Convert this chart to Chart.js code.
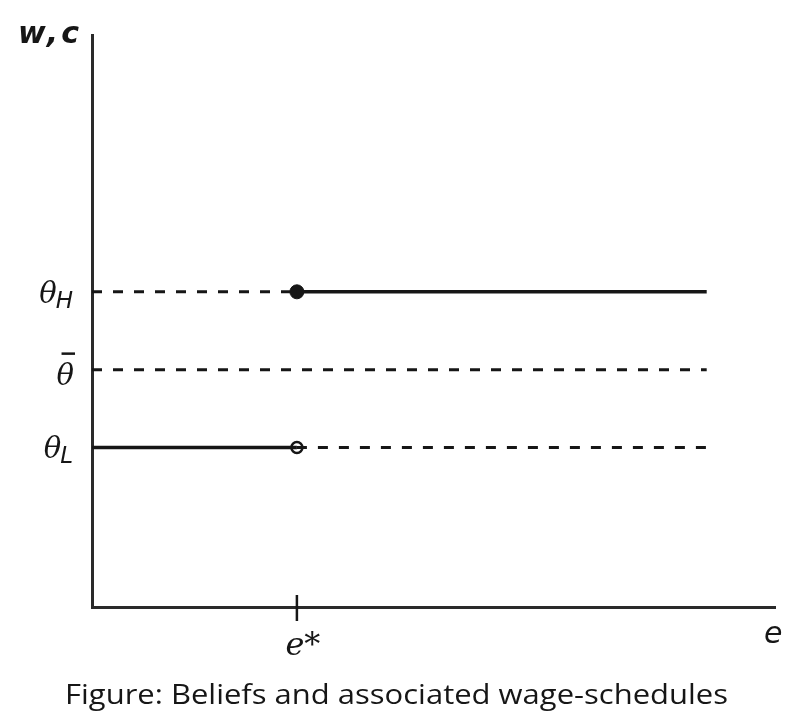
<!DOCTYPE html>
<html>
<head>
<meta charset="utf-8">
<script src="https://cdn.jsdelivr.net/npm/chart.js@4/dist/chart.umd.min.js"></script>
<style>
html,body{margin:0;padding:0;background:#fff;}
#wrap{width:800px;height:723px;}
</style>
</head>
<body>
<div id="wrap"><canvas id="c" width="800" height="723"></canvas></div>
<script>
// ---- data ----
const eStar = 3;          // threshold education level e*
const eEnd = 9;           // right end of the schedules
const thetaL = 2.05;
const thetaBar = 3.05;
const thetaH = 4.05;
const xRange = [0, 10];
const yRange = [0, 7.35];
const xTickValues = [eStar];
const xTickLabels = ['e*'];
const yTickValues = [thetaL, thetaBar, thetaH];
const yTickMain = ['θ', 'θ', 'θ'];
const yTickSub = ['L', '', 'H'];
const yTickBar = [false, true, false];
const yAxisTitle = 'w,c';
const xAxisTitle = 'e';
const caption = 'Figure: Beliefs and associated wage-schedules';

// series (segments)
const highDashed = [{x: 0, y: thetaH}, {x: eStar, y: thetaH}];
const highSolid = [{x: eStar, y: thetaH}, {x: eEnd, y: thetaH}];
const barDashed = [{x: 0, y: thetaBar}, {x: eEnd, y: thetaBar}];
const lowSolid = [{x: 0, y: thetaL}, {x: eStar, y: thetaL}];
const lowDashed = [{x: eStar, y: thetaL}, {x: eEnd, y: thetaL}];
const filledPoint = [{x: eStar, y: thetaH}];
const openPoint = [{x: eStar, y: thetaL}];

const INK = '#161616';
const AXIS = '#2a2a2a';
const dash = [10, 11];

const labelsPlugin = {
  id: 'labels',
  afterDraw(chart) {
    const ctx = chart.ctx;
    const xs = chart.scales.x, ys = chart.scales.y;
    const area = chart.chartArea;
    ctx.save();
    ctx.fillStyle = INK;
    ctx.strokeStyle = INK;
    // x tick mark crossing axis
    xTickValues.forEach((v, i) => {
      const px = xs.getPixelForValue(v);
      ctx.lineWidth = 2.5;
      ctx.beginPath();
      ctx.moveTo(px, area.bottom - 12);
      ctx.lineTo(px, area.bottom + 14);
      ctx.stroke();
      ctx.font = 'italic 32px "DejaVu Serif"';
      ctx.textAlign = 'center';
      ctx.textBaseline = 'alphabetic';
      ctx.fillText(xTickLabels[i], px + 6, area.bottom + 48);
    });
    // y tick labels
    yTickValues.forEach((v, i) => {
      const py = ys.getPixelForValue(v);
      const right = area.left - 18;
      ctx.textBaseline = 'alphabetic';
      ctx.textAlign = 'left';
      ctx.font = 'italic 29px "DejaVu Serif"';
      const mainW = ctx.measureText(yTickMain[i]).width;
      ctx.font = 'italic 23px "DejaVu Sans"';
      const subW = yTickSub[i] ? ctx.measureText(yTickSub[i]).width : 0;
      const startX = right - mainW - subW;
      ctx.font = 'italic 29px "DejaVu Serif"';
      ctx.fillText(yTickMain[i], startX, py + (yTickBar[i] ? 15 : 11));
      if (yTickSub[i]) {
        ctx.font = 'italic 23px "DejaVu Sans"';
        ctx.fillText(yTickSub[i], startX + mainW - 1, py + 16);
      }
      if (yTickBar[i]) {
        ctx.lineWidth = 2.5;
        ctx.beginPath();
        ctx.moveTo(startX + 5, py - 16);
        ctx.lineTo(startX + mainW + 1, py - 16);
        ctx.stroke();
      }
    });
    // axis titles
    ctx.font = 'italic bold 30px "DejaVu Sans"';
    ctx.textAlign = 'left';
    ctx.textBaseline = 'alphabetic';
    ctx.letterSpacing = '3px';
    ctx.fillText(yAxisTitle, 18, 43);
    ctx.letterSpacing = '0px';
    ctx.font = 'italic 30px "DejaVu Sans"';
    ctx.fillText(xAxisTitle, 764, 643);
    // caption
    ctx.font = '28px "Open Sans"';
    ctx.textAlign = 'left';
    const cw = ctx.measureText(caption).width;
    const target = 663;
    ctx.translate(65, 704);
    ctx.scale(target / cw, 1);
    ctx.fillText(caption, 0, 0);
    ctx.restore();
  }
};

new Chart(document.getElementById('c'), {
  type: 'scatter',
  data: {
    datasets: [
      {data: highDashed, showLine: true, borderColor: INK, borderWidth: 3, borderDash: dash, pointRadius: 0},
      {data: barDashed, showLine: true, borderColor: INK, borderWidth: 3, borderDash: dash, pointRadius: 0},
      {data: lowDashed, showLine: true, borderColor: INK, borderWidth: 3, borderDash: dash, pointRadius: 0},
      {data: highSolid, showLine: true, borderColor: INK, borderWidth: 3.5, pointRadius: 0},
      {data: lowSolid, showLine: true, borderColor: INK, borderWidth: 3.5, pointRadius: 0},
      {data: filledPoint, showLine: false, pointRadius: 7, pointBackgroundColor: INK, pointBorderColor: INK, pointBorderWidth: 1},
      {data: openPoint, showLine: false, pointRadius: 5.5, pointBackgroundColor: '#fff', pointBorderColor: INK, pointBorderWidth: 2.5}
    ]
  },
  options: {
    responsive: false,
    animation: false,
    events: [],
    layout: {padding: {left: 92, top: 35, right: 25, bottom: 116}},
    plugins: {legend: {display: false}, tooltip: {enabled: false}, title: {display: false}},
    scales: {
      x: {
        type: 'linear', min: xRange[0], max: xRange[1],
        grid: {display: false, drawTicks: false},
        border: {display: true, color: AXIS, width: 3},
        ticks: {display: false}
      },
      y: {
        type: 'linear', min: yRange[0], max: yRange[1],
        grid: {display: false, drawTicks: false},
        border: {display: true, color: AXIS, width: 3},
        ticks: {display: false}
      }
    }
  },
  plugins: [labelsPlugin]
});
</script>
</body>
</html>
